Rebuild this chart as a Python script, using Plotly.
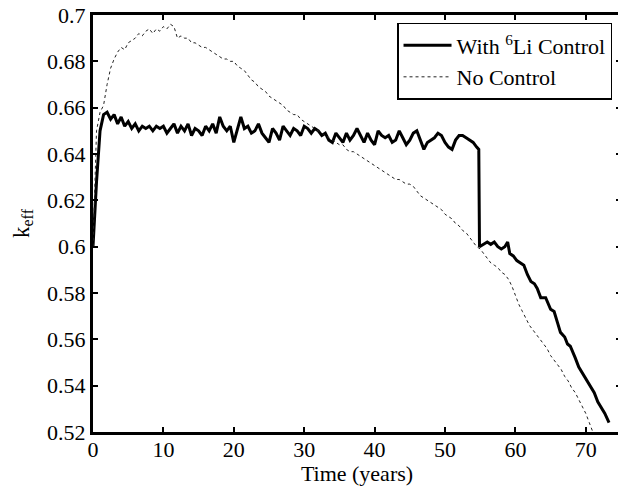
import plotly.graph_objects as go

# With 6Li control (solid)
ctrl_t = [0.0, 0.5, 1.0, 1.5, 2.0, 2.5, 3.0, 3.5, 4.0, 4.5, 5.0, 5.5, 6.0, 6.5, 7.0, 7.5,
          8.0, 8.5, 9.0, 9.5, 10.0, 10.5, 11.0, 11.5, 12.0, 12.5, 13.0, 13.5, 14.0, 14.5,
          15.0, 15.5, 16.0, 16.5, 17.0, 17.5, 18.0, 18.5, 19.0, 19.5, 20.0, 20.5, 21.0,
          21.5, 22.0, 22.5, 23.0, 23.5, 24.0, 24.5, 25.0, 25.5, 26.0, 26.5, 27.0, 27.5,
          28.0, 28.5, 29.0, 29.5, 30.0, 30.5, 31.0, 31.5, 32.0, 32.5, 33.0, 33.5, 34.0,
          34.5, 35.0, 35.5, 36.0, 36.5, 37.0, 37.5, 38.0, 38.5, 39.0, 39.5, 40.0, 40.5,
          41.0, 41.5, 42.0, 42.5, 43.0, 43.5, 44.0, 44.5, 45.0, 45.5, 46.0, 46.5, 47.0,
          47.5, 48.0, 48.5, 49.0, 49.5, 50.0, 50.5, 51.0, 51.5, 52.0, 52.5, 53.0, 53.5,
          54.0, 54.5, 54.8, 54.9, 55.5, 56.0, 56.5, 57.0, 57.5, 58.0, 58.5, 58.9, 59.2,
          59.7, 60.2, 60.7, 61.2, 61.7, 62.2, 62.7, 63.1, 63.6, 64.3, 65.0, 65.5, 66.0,
          66.4, 67.0, 67.4, 67.8, 68.1, 68.5, 69.0, 69.6, 70.2, 70.7, 71.2, 71.7, 72.1,
          72.7, 73.3]
ctrl_k = [0.600, 0.628, 0.650, 0.657, 0.658, 0.655, 0.657, 0.653, 0.656, 0.652, 0.654,
          0.651, 0.653, 0.650, 0.652, 0.651, 0.652, 0.650, 0.652, 0.651, 0.652, 0.649,
          0.651, 0.653, 0.649, 0.652, 0.650, 0.653, 0.648, 0.651, 0.650, 0.648, 0.652,
          0.650, 0.653, 0.649, 0.656, 0.652, 0.650, 0.652, 0.645, 0.650, 0.656, 0.651,
          0.652, 0.649, 0.650, 0.653, 0.649, 0.647, 0.645, 0.651, 0.649, 0.646, 0.652,
          0.650, 0.648, 0.651, 0.650, 0.648, 0.652, 0.651, 0.649, 0.651, 0.650, 0.648,
          0.649, 0.646, 0.645, 0.649, 0.647, 0.645, 0.649, 0.646, 0.648, 0.651, 0.648,
          0.645, 0.649, 0.646, 0.644, 0.650, 0.648, 0.647, 0.648, 0.645, 0.646, 0.650,
          0.647, 0.644, 0.646, 0.649, 0.650, 0.646, 0.642, 0.645, 0.646, 0.647, 0.649,
          0.648, 0.645, 0.643, 0.642, 0.646, 0.648, 0.648, 0.647, 0.646, 0.645, 0.643,
          0.642, 0.600, 0.601, 0.602, 0.601, 0.602, 0.600, 0.599, 0.600, 0.602, 0.597,
          0.596, 0.594, 0.593, 0.592, 0.588, 0.585, 0.584, 0.582, 0.578, 0.578, 0.573,
          0.572, 0.567, 0.563, 0.561, 0.558, 0.557, 0.555, 0.552, 0.548, 0.545, 0.542,
          0.540, 0.537, 0.533, 0.531, 0.528, 0.524]

# No control (dotted)
noctrl_t = [i * 0.5 for i in range(143)]
noctrl_k = [0.600, 0.650, 0.658, 0.661, 0.670, 0.677, 0.681, 0.684, 0.686, 0.685, 0.688,
            0.689, 0.690, 0.692, 0.691, 0.693, 0.694, 0.692, 0.694, 0.693, 0.695, 0.694,
            0.696, 0.695, 0.690, 0.691, 0.690, 0.690, 0.688, 0.688, 0.687, 0.686, 0.686,
            0.685, 0.684, 0.683, 0.682, 0.681, 0.681, 0.680, 0.680, 0.678, 0.677, 0.676,
            0.674, 0.672, 0.671, 0.669, 0.668, 0.667, 0.665, 0.664, 0.663, 0.662, 0.661,
            0.659, 0.658, 0.657, 0.657, 0.655, 0.654, 0.653, 0.652, 0.651, 0.650, 0.649,
            0.648, 0.647, 0.646, 0.645, 0.644, 0.644, 0.642, 0.641, 0.641, 0.640, 0.639,
            0.638, 0.637, 0.636, 0.635, 0.634, 0.633, 0.632, 0.631, 0.630, 0.629, 0.629,
            0.628, 0.627, 0.627, 0.626, 0.624, 0.622, 0.621, 0.620, 0.619, 0.618, 0.617,
            0.616, 0.614, 0.613, 0.612, 0.610, 0.609, 0.607, 0.606, 0.604, 0.602, 0.600,
            0.599, 0.597, 0.595, 0.593, 0.592, 0.591, 0.589, 0.588, 0.586, 0.583, 0.579,
            0.575, 0.572, 0.569, 0.566, 0.564, 0.562, 0.560, 0.558, 0.556, 0.553, 0.551,
            0.549, 0.547, 0.544, 0.542, 0.539, 0.537, 0.534, 0.531, 0.528, 0.524, 0.520]

x_ticks = [0, 10, 20, 30, 40, 50, 60, 70]
y_ticks = [0.52, 0.54, 0.56, 0.58, 0.6, 0.62, 0.64, 0.66, 0.68, 0.7]
y_tick_labels = ["0.52", "0.54", "0.56", "0.58", "0.6", "0.62", "0.64", "0.66", "0.68", "0.7"]

FONT = "Liberation Serif"

fig = go.Figure()
fig.add_trace(go.Scatter(x=ctrl_t, y=ctrl_k, mode="lines",
                         name="With <sup>6</sup>Li Control",
                         line=dict(color="black", width=3)))
fig.add_trace(go.Scatter(x=noctrl_t, y=noctrl_k, mode="lines",
                         name="No Control",
                         line=dict(color="#222222", width=1, dash="dot")))

axis_common = dict(showline=True, linecolor="black", linewidth=3, mirror="ticks",
                   ticks="inside", ticklen=5, tickwidth=2, tickcolor="black",
                   showgrid=False, zeroline=False, automargin=False,
                   tickfont=dict(family=FONT, size=22, color="black"))

fig.update_xaxes(range=[0, 75], tickvals=x_ticks, ticklabelstandoff=-4,
                 title=dict(text="Time (years)", font=dict(family=FONT, size=22, color="black"),
                            standoff=2),
                 **axis_common)
fig.update_yaxes(range=[0.52, 0.70], tickvals=y_ticks, ticktext=y_tick_labels,
                 title=dict(text="k<sub>eff</sub>", font=dict(family=FONT, size=23, color="black"),
                            standoff=12),
                 **axis_common)

fig.update_layout(
    width=621, height=486,
    margin=dict(l=93, r=0, t=15, b=54, autoexpand=False),
    plot_bgcolor="white", paper_bgcolor="white",
    font=dict(family=FONT, color="black"),
    legend=dict(x=0.983, y=0.981, xanchor="right", yanchor="top",
                bgcolor="white", bordercolor="black", borderwidth=1.5,
                font=dict(family=FONT, size=22, color="black"),
                tracegroupgap=0, itemwidth=48),
)

fig.write_html("out.html", config={"displayModeBar": False},
               post_script="document.body.style.margin='0';document.body.style.overflow='hidden';")
